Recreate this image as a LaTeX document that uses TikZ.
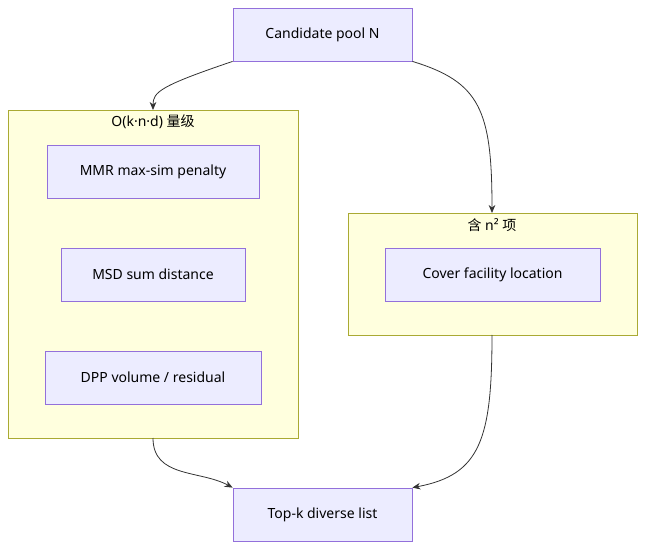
\documentclass[tikz,border=0pt]{standalone}
\usepackage{fontspec}
\setmainfont{Noto Sans}
\newfontfamily\cjk{Noto Sans CJK SC}
\usetikzlibrary{arrows.meta}
\definecolor{boxfill}{HTML}{ECECFF}
\definecolor{boxline}{HTML}{9370DB}
\definecolor{grpfill}{HTML}{FFFFDE}
\definecolor{grpline}{HTML}{AAAA33}
\tikzset{basic/.style={draw=boxline,fill=boxfill,line width=0.6pt,
                       font=\fontsize{10.5}{13}\selectfont,inner sep=0pt}}
\tikzset{group/.style={draw=grpline,fill=grpfill,line width=0.6pt}}
\begin{document}
\begin{tikzpicture}[x=0.75pt,y=-0.75pt,>={Stealth[length=6pt,width=5pt]},
    flow/.style={->,draw=black!80,line width=0.6pt}]
  \useasboundingbox (0,0) rectangle (654,556);
  % clusters
  \draw[group] (8,110) rectangle (298,438);
  \draw[group] (348,213) rectangle (637,335);
  \node (lin) [font=\fontsize{10.5}{13}\selectfont] at (153,122) {O(k·n·d) {\cjk 量级}};
  \node (quad) [font=\fontsize{10.5}{13}\selectfont] at (492,225) {{\cjk 含} n² {\cjk 项}};
  \coordinate (lin_top) at (153,110);
  \coordinate (lin_bot) at (153,438);
  \coordinate (quad_top) at (492,213);
  \coordinate (quad_bot) at (492,335);

  % nodes
  \node (pool) [basic,minimum width=134.25pt,minimum height=39.75pt] at (322.5,34.5) {Candidate pool N};
  \node (mmr)  [basic,minimum width=159pt,minimum height=39.75pt] at (153,171.5) {MMR max-sim penalty};
  \node (msd)  [basic,minimum width=138pt,minimum height=39.75pt] at (153,274.5) {MSD sum distance};
  \node (dpp)  [basic,minimum width=162pt,minimum height=39.75pt] at (153,377.5) {DPP volume / residual};
  \node (cov)  [basic,minimum width=161.25pt,minimum height=39.75pt] at (492.5,274.5) {Cover facility location};
  \node (topk) [basic,minimum width=134.25pt,minimum height=39.75pt] at (322.5,514.5) {Top-k diverse list};

  % connectors
  \draw[flow] (pool.south west) .. controls (160,86) and (153,92) .. (lin_top);
  \draw[flow] (pool.south east) .. controls (480,82) and (492,110) .. (quad_top);
  \draw[flow] (lin_bot) .. controls (153,478) and (200,470) .. (topk.north west);
  \draw[flow] (quad_bot) .. controls (492,440) and (480,475) .. (topk.north east);
\end{tikzpicture}
\end{document}
